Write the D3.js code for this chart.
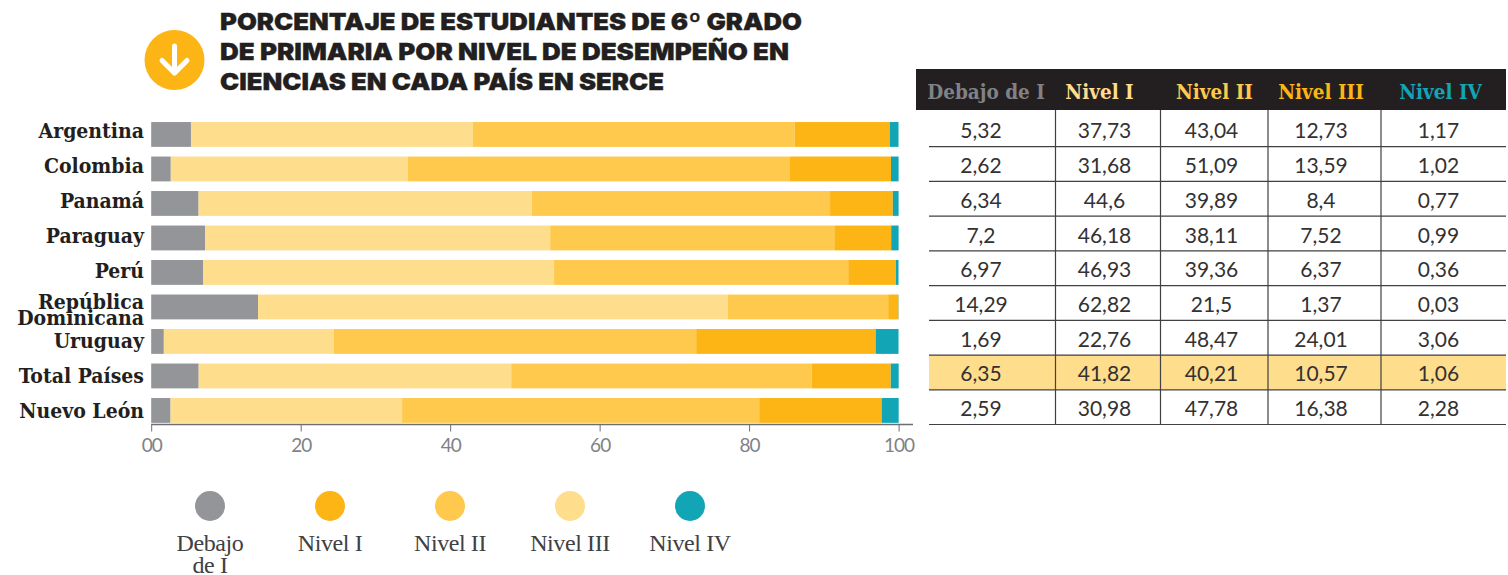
<!DOCTYPE html>
<html>
<head>
<meta charset="utf-8">
<script src="https://cdn.jsdelivr.net/npm/d3@7"></script>
<style>
  html, body { margin: 0; padding: 0; background: #fff; }
  svg { display: block; }
</style>
</head>
<body>
<div id="container"></div>
<script>
// datos
const paises = ["Argentina", "Colombia", "Panamá", "Paraguay", "Perú", "República Dominicana", "Uruguay", "Total Países", "Nuevo León"];
const debajo = [5.32, 2.62, 6.34, 7.2, 6.97, 14.29, 1.69, 6.35, 2.59];
const nivel1 = [37.73, 31.68, 44.6, 46.18, 46.93, 62.82, 22.76, 41.82, 30.98];
const nivel2 = [43.04, 51.09, 39.89, 38.11, 39.36, 21.5, 48.47, 40.21, 47.78];
const nivel3 = [12.73, 13.59, 8.4, 7.52, 6.37, 1.37, 24.01, 10.57, 16.38];
const nivel4 = [1.17, 1.02, 0.77, 0.99, 0.36, 0.03, 3.06, 1.06, 2.28];
const xTicks = [0, 20, 40, 60, 80, 100];
const niveles = ["Debajo de I", "Nivel I", "Nivel II", "Nivel III", "Nivel IV"];
const tituloLineas = ["PORCENTAJE DE ESTUDIANTES DE 6º GRADO", "DE PRIMARIA POR NIVEL DE DESEMPEÑO EN", "CIENCIAS EN CADA PAÍS EN SERCE"];
const leyenda = ["Debajo de I", "Nivel I", "Nivel II", "Nivel III", "Nivel IV"];
const resaltado = "Total Países";

// colores
const gris = "#939598", claro = "#fedd8d", medio = "#fec94c", fuerte = "#fdb515", teal = "#12a5b6";
const colorBarra = d3.scaleOrdinal().domain(niveles).range([gris, claro, medio, fuerte, teal]);
const colorLeyenda = d3.scaleOrdinal().domain(leyenda).range([gris, fuerte, medio, claro, teal]);
const colorHeader = d3.scaleOrdinal().domain(niveles).range(["#808285", "#fedd8d", "#fec94c", "#fdb515", "#12a5b6"]);

const width = 1508;
const height = 575;
const serif = "'Liberation Serif', serif";
const slab = "'DejaVu Serif Condensed', 'DejaVu Serif', serif";
const oscuro = "#414042";

const svg = d3.select("div#container").append("svg")
    .attr("width", width)
    .attr("height", height);

// icono
svg.append("circle").attr("cx", 174.5).attr("cy", 60).attr("r", 30).attr("fill", fuerte);
svg.append("path")
    .attr("d", "M174.5,46V73M162,60.5L174.5,73L187,60.5")
    .attr("fill", "none")
    .attr("stroke", "#fff")
    .attr("stroke-width", 5)
    .attr("stroke-linecap", "round")
    .attr("stroke-linejoin", "round");

// titulo
const anchoTitulo = [582, 569, 444];
svg.selectAll("text.titulo").data(tituloLineas).enter()
    .append("text")
    .attr("class", "titulo")
    .attr("x", 220)
    .attr("y", function(d, i) { return 30 + i * 30; })
    .attr("textLength", function(d, i) { return anchoTitulo[i]; })
    .attr("lengthAdjust", "spacingAndGlyphs")
    .style("font-family", "Inter, sans-serif")
    .style("font-weight", 900)
    .style("font-size", "23.5px")
    .attr("fill", "#231f20")
    .attr("stroke", "#231f20")
    .attr("stroke-width", 0.3)
    .text(function(d) { return d; });

// barras
const x = d3.scaleLinear().domain([0, 100]).range([151.2, 898.6]);
const y = d3.scaleBand().domain(paises).range([117.2, 427.7]).paddingInner(0.28).paddingOuter(0.14);

const tabla = paises.map(function(p, i) {
    return {
        pais: p,
        "Debajo de I": debajo[i],
        "Nivel I": nivel1[i],
        "Nivel II": nivel2[i],
        "Nivel III": nivel3[i],
        "Nivel IV": nivel4[i]
    };
});
const series = d3.stack().keys(niveles)(tabla);

svg.selectAll("g.serie").data(series).enter()
    .append("g")
    .attr("class", "serie")
    .attr("fill", function(d) { return colorBarra(d.key); })
    .selectAll("rect").data(function(d) { return d; }).enter()
    .append("rect")
    .attr("x", function(d) { return x(d[0]); })
    .attr("width", function(d) { return x(d[1]) - x(d[0]); })
    .attr("y", function(d) { return y(d.data.pais); })
    .attr("height", y.bandwidth());

// etiquetas de pais (van en su propia escala, un poco mas abierta que las barras)
const yEtiqueta = d3.scalePoint().domain(paises).range([138.3, 418.3]);
const etiquetas = svg.selectAll("text.pais").data(paises).enter()
    .append("text")
    .attr("class", "pais")
    .attr("text-anchor", "end")
    .style("font-family", slab)
    .style("font-weight", 700)
    .style("font-size", "21px")
    .attr("fill", "#231f20");

etiquetas.each(function(d) {
    const partes = d === "República Dominicana" ? ["República", "Dominicana"] : [d];
    d3.select(this).selectAll("tspan").data(partes).enter()
        .append("tspan")
        .attr("x", 144)
        .attr("y", function(t, i) { return partes.length > 1 ? yEtiqueta(d) - 4 + i * 15.7 : yEtiqueta(d); })
        .text(function(t) { return t; });
});

// eje x
const eje = svg.append("g")
    .attr("transform", "translate(0,424.5)")
    .call(d3.axisBottom(x).tickValues(xTicks).tickSize(7).tickSizeOuter(0).tickPadding(7)
        .tickFormat(function(d) { return d === 0 ? "00" : d; }));
eje.select(".domain").attr("stroke", "#6d6e71").attr("stroke-width", 1.5).attr("d", "M151.2,0H913");
eje.selectAll(".tick line").attr("stroke", "#6d6e71").attr("stroke-width", 1);
eje.selectAll(".tick text")
    .style("font-family", "Lato, sans-serif")
    .style("font-size", "19px")
    .style("letter-spacing", "-1px")
    .attr("fill", "#808285");

// leyenda
const xLeyenda = d3.scalePoint().domain(leyenda).range([210, 690]);
const itemLeyenda = svg.selectAll("g.leyenda").data(leyenda).enter()
    .append("g")
    .attr("class", "leyenda")
    .attr("transform", function(d) { return "translate(" + xLeyenda(d) + ",0)"; });
itemLeyenda.append("circle")
    .attr("cy", 506)
    .attr("r", 15)
    .attr("fill", function(d) { return colorLeyenda(d); });
itemLeyenda.each(function(d) {
    const partes = d === "Debajo de I" ? ["Debajo", "de I"] : [d];
    d3.select(this).selectAll("text").data(partes).enter()
        .append("text")
        .attr("y", function(t, i) { return 551 + i * 22; })
        .attr("text-anchor", "middle")
        .style("font-family", serif)
        .style("font-size", "24px")
        .style("letter-spacing", "-0.4px")
        .attr("fill", oscuro)
        .text(function(t) { return t; });
});

// tabla
const bordes = [929, 1055.5, 1160.5, 1268, 1381, 1506];
const xHeader = [986, 1099.5, 1214.5, 1321, 1440.5];
const xCelda = [981, 1104.5, 1211.5, 1321, 1438.5];
const columnas = [debajo, nivel1, nivel2, nivel3, nivel4];
const yTabla = d3.scaleBand().domain(paises).range([112, 424.5]);
const formato = function(v) { return String(v).replace(".", ","); };

svg.append("rect")
    .attr("x", 916).attr("y", 69).attr("width", 590).attr("height", 41)
    .attr("fill", "#231f20");

svg.append("rect")
    .attr("x", bordes[0]).attr("width", bordes[5] - bordes[0])
    .attr("y", yTabla(resaltado)).attr("height", yTabla.bandwidth())
    .attr("fill", claro);

niveles.forEach(function(n, c) {
    svg.append("text")
        .attr("x", xHeader[c])
        .attr("y", 99)
        .attr("text-anchor", "middle")
        .style("font-family", slab)
        .style("font-weight", 700)
        .style("font-size", "20.5px")
        .attr("fill", colorHeader(n))
        .text(n);

    svg.selectAll("text.celda" + c).data(columnas[c]).enter()
        .append("text")
        .attr("class", "celda" + c)
        .attr("x", xCelda[c])
        .attr("y", function(d, i) { return yTabla(paises[i]) + yTabla.bandwidth() / 2 + 9; })
        .attr("text-anchor", "middle")
        .style("font-family", "Lato, sans-serif")
        .style("font-size", "21px")
        .attr("fill", "#333132")
        .text(formato);
});

// lineas de la tabla
svg.selectAll("line.fila").data(paises).enter()
    .append("line")
    .attr("class", "fila")
    .attr("x1", bordes[0]).attr("x2", bordes[5])
    .attr("y1", function(d) { return yTabla(d) + yTabla.bandwidth(); })
    .attr("y2", function(d) { return yTabla(d) + yTabla.bandwidth(); })
    .attr("stroke", oscuro)
    .attr("stroke-width", 1.2);

svg.selectAll("line.columna").data(bordes.slice(1, 5)).enter()
    .append("line")
    .attr("class", "columna")
    .attr("x1", function(d) { return d; }).attr("x2", function(d) { return d; })
    .attr("y1", 110).attr("y2", 424.5)
    .attr("stroke", oscuro)
    .attr("stroke-width", 1.2);
</script>
</body>
</html>
